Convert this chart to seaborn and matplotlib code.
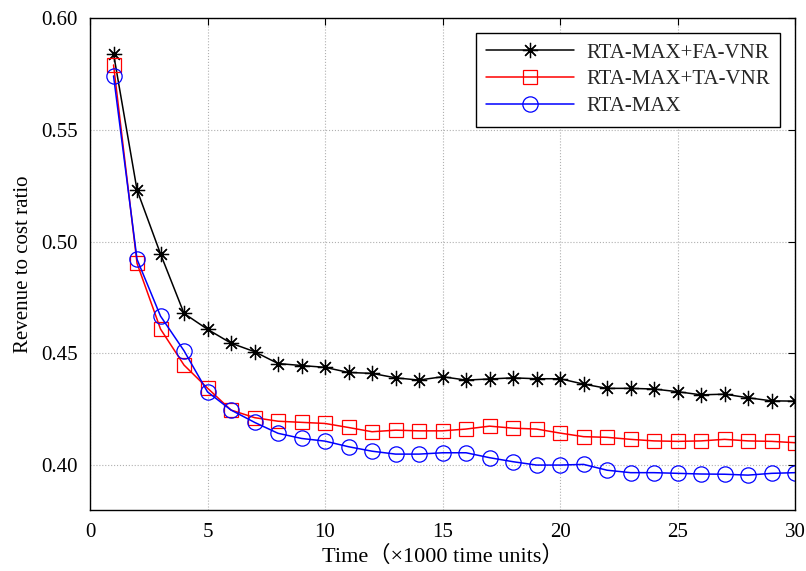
import numpy as np
import pandas as pd
import seaborn as sns
from matplotlib import pyplot as plt

# time in units of 1000
time_k = list(range(1, 31))

fa_vnr = [0.5840, 0.5231, 0.4945, 0.4679, 0.4608, 0.4546, 0.4508, 0.4455, 0.4446, 0.4438,
          0.4415, 0.4411, 0.4391, 0.4381, 0.4396, 0.4381, 0.4386, 0.4391, 0.4387, 0.4387,
          0.4363, 0.4344, 0.4344, 0.4341, 0.4329, 0.4315, 0.4318, 0.4302, 0.4288, 0.4287]

ta_vnr = [0.5790, 0.4903, 0.4609, 0.4448, 0.4345, 0.4247, 0.4213, 0.4197, 0.4192, 0.4187,
          0.4169, 0.4150, 0.4157, 0.4154, 0.4154, 0.4162, 0.4175, 0.4166, 0.4162, 0.4144,
          0.4128, 0.4125, 0.4116, 0.4109, 0.4107, 0.4109, 0.4116, 0.4109, 0.4107, 0.4101]

rta_max = [0.5741, 0.4921, 0.4667, 0.4512, 0.4328, 0.4247, 0.4192, 0.4143, 0.4120, 0.4108,
           0.4083, 0.4063, 0.4050, 0.4050, 0.4056, 0.4056, 0.4034, 0.4016, 0.4001, 0.4001,
           0.4004, 0.3978, 0.3967, 0.3967, 0.3964, 0.3961, 0.3960, 0.3956, 0.3964, 0.3967]

series_names = ['RTA-MAX+FA-VNR', 'RTA-MAX+TA-VNR', 'RTA-MAX']
x_ticks = [0, 5, 10, 15, 20, 25, 30]
y_ticks = [0.40, 0.45, 0.50, 0.55, 0.60]


def main():
    sns.set_theme(style='whitegrid')
    plt.rcParams['font.family'] = ['Liberation Serif', 'Noto Sans CJK SC']

    fig = plt.figure(figsize=(8.06, 5.71), dpi=100)
    ax = fig.add_axes([0.1117, 0.1068, 0.8747, 0.8617])

    styles = [
        (fa_vnr, 'black', (8, 2, 0), 11),
        (ta_vnr, 'red', 's', 10),
        (rta_max, 'blue', 'o', 11),
    ]
    for name, (vals, color, marker, ms) in zip(series_names, styles):
        df = pd.DataFrame({'Time': time_k, 'Ratio': vals})
        sns.lineplot(data=df, x='Time', y='Ratio', ax=ax, color=color, label=name,
                     marker=marker, markersize=ms, markerfacecolor='none',
                     markeredgecolor=color, markeredgewidth=0.9, linewidth=1.1)

    ax.set_xlim(0, 30)
    ax.set_ylim(0.38, 0.60)
    ax.set_xticks(x_ticks)
    ax.set_yticks(y_ticks)
    ax.set_yticklabels([f'{v:.2f}' for v in y_ticks])
    ax.tick_params(direction='in', length=5, width=0.8, colors='black', labelsize=15,
                   top=True, right=True, pad=9)
    ax.grid(True, linestyle=':', color='#b0b0b0', linewidth=0.8)
    for sp in ax.spines.values():
        sp.set_color('black')
        sp.set_linewidth(1.0)

    ax.set_xlabel('Time（×1000 time units）', fontsize=16, color='black', labelpad=3)
    ax.set_ylabel('Revenue to cost ratio', fontsize=15, color='black', labelpad=6)

    leg = ax.legend(loc='upper right', fontsize=15, handlelength=4.2, handletextpad=0.6,
                    frameon=True, fancybox=False, framealpha=1, edgecolor='black',
                    borderaxespad=0.7, labelspacing=0.35, borderpad=0.5)
    leg.get_frame().set_linewidth(1.0)

    plt.savefig('out.png', dpi=100)
    plt.close()


if __name__ == '__main__':
    main()
